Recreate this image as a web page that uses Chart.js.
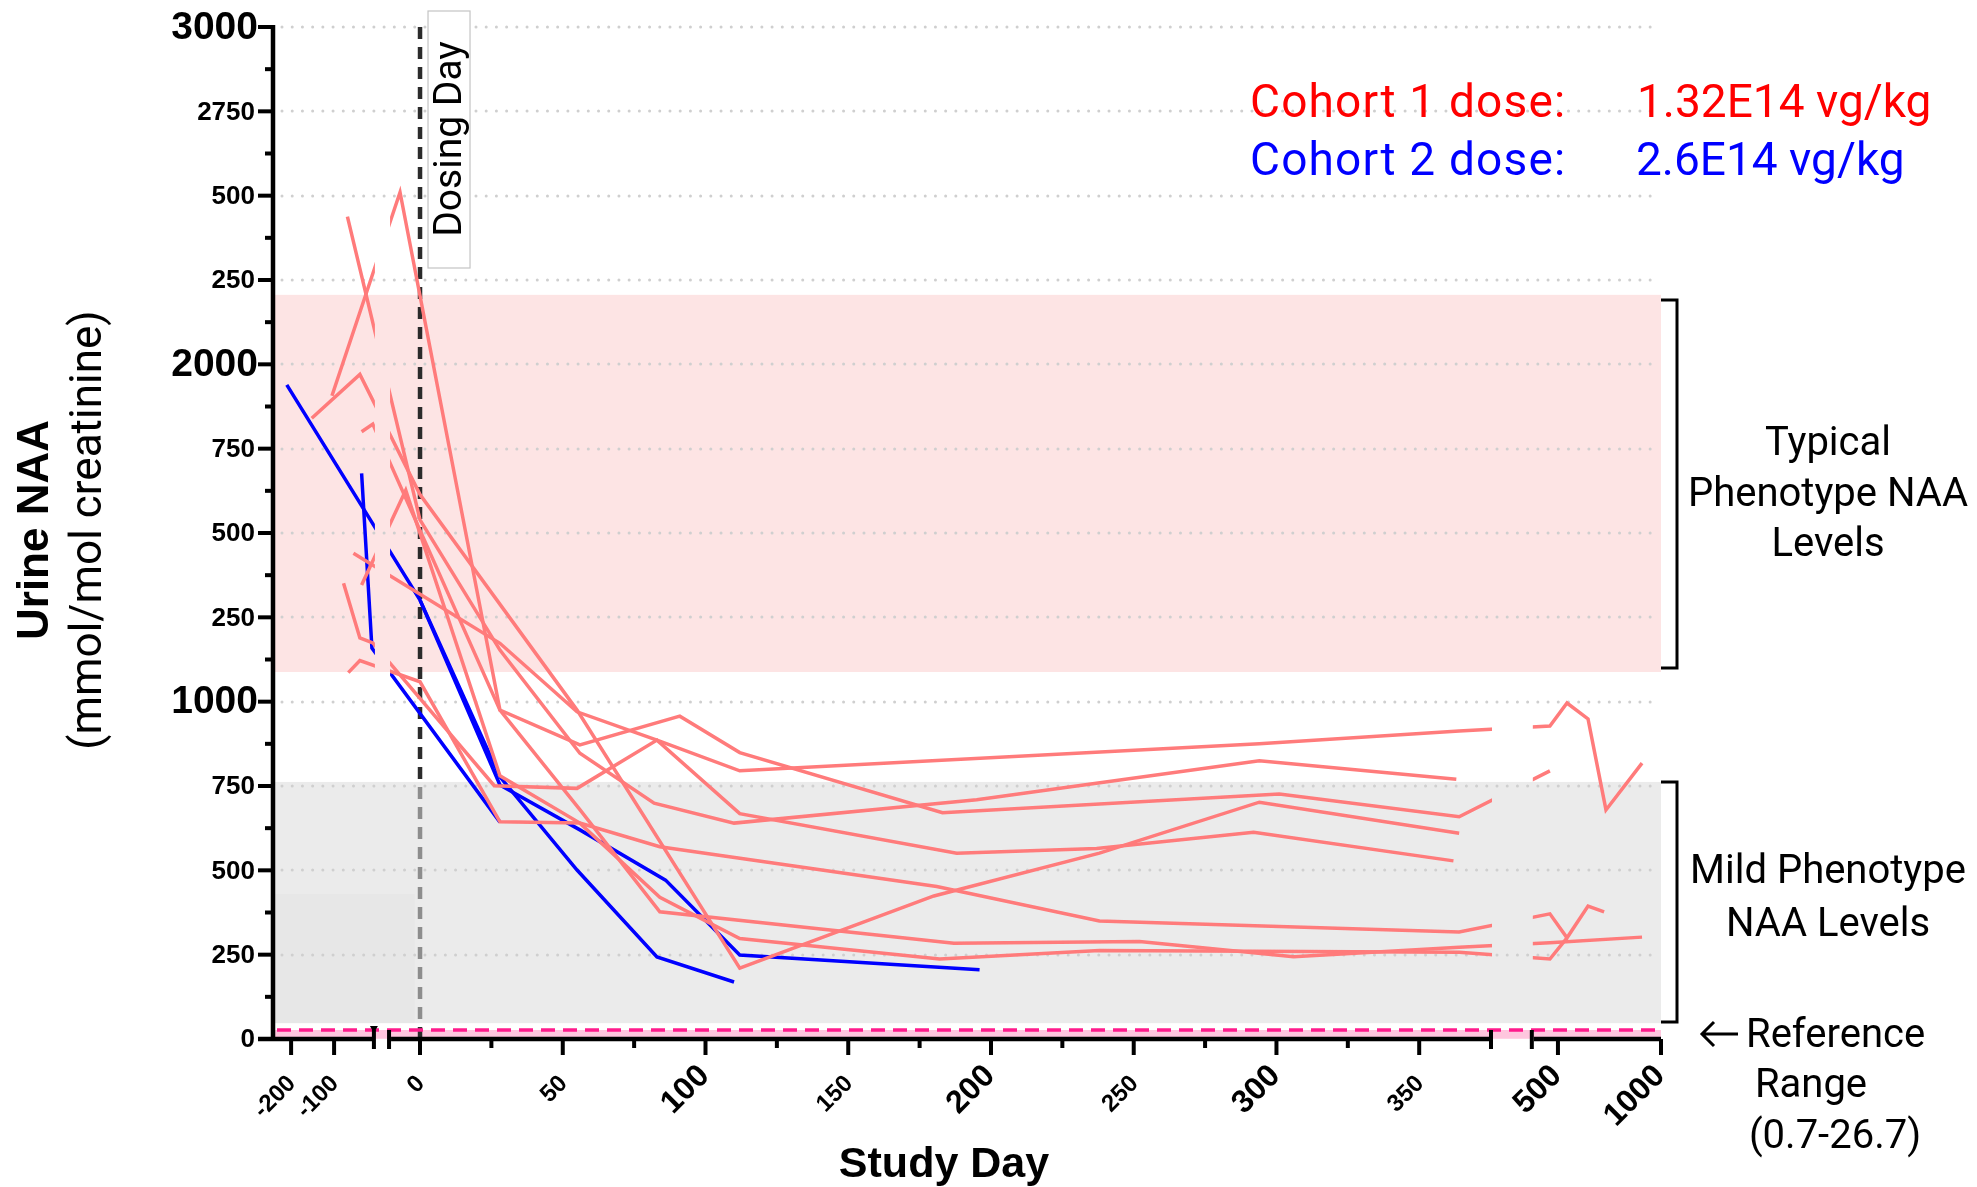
<!DOCTYPE html>
<html>
<head>
<meta charset="utf-8">
<title>Urine NAA by study day</title>
<script src="https://cdn.jsdelivr.net/npm/chart.js@4.4.1/dist/chart.umd.min.js"></script>
<style>
  html, body { margin: 0; padding: 0; background: #fff; }
  canvas { display: block; }
</style>
</head>
<body>
<canvas id="naaChart" width="1977" height="1187"></canvas>
<script>
// ---- values: study day / urine NAA (mmol/mol creatinine) ----
// cohort 1 (1.32E14 vg/kg), one pair of arrays per patient
const c1aDays = [-55, 28, 55, 83, 112, 294, 364, 461, 544, 646, 733, 908];
const c1aNaa  = [1440, 1173, 970, 886, 795, 875, 913, 928, 996, 949, 679, 818];
const c1bDays = [-105, -7, 28, 56, 91, 112, 183, 301, 364, 461];
const c1bNaa  = [1907, 2510, 975, 872, 957, 849, 671, 726, 659, 795];
const c1cDays = [-69, 0, 28, 56, 82, 110, 195, 294, 363];
const c1cNaa  = [2438, 1539, 1153, 847, 699, 640, 709, 825, 770];
const c1dDays = [-78, -40, -10, 26, 55, 83, 112, 188, 237, 292, 362];
const c1dNaa  = [1351, 1189, 1174, 751, 743, 886, 668, 551, 565, 613, 528];
const c1eDays = [-67, -40, 0, 28, 56, 84, 181, 238, 364, 461, 544, 646, 724];
const c1eNaa  = [1086, 1122, 1059, 644, 640, 570, 452, 350, 317, 371, 300, 394, 377];
const c1fDays = [-152, -40, 0, 55, 112, 180, 238, 294, 364];
const c1fNaa  = [1840, 1970, 1614, 975, 210, 424, 551, 702, 610];
const c1gDays = [-36, -10, 28, 56, 84, 187, 252, 306, 364, 461, 908];
const c1gNaa  = [1800, 1823, 975, 680, 377, 284, 289, 244, 272, 285, 302];
const c1hDays = [-36, -5, 28, 56, 84, 112, 182, 238, 364, 461, 544];
const c1hNaa  = [1346, 1627, 780, 640, 420, 298, 237, 262, 257, 237, 300];
// cohort 2 (2.6E14 vg/kg)
const c2aDays = [-210, 0, 28, 55, 83, 110];
const c2aNaa  = [1939, 1301, 777, 501, 243, 169];
const c2bDays = [0, 28, 56, 86, 112, 196];
const c2bNaa  = [1301, 753, 620, 471, 249, 205];
const c2cDays = [-36, -12, 28];
const c2cNaa  = [1677, 1159, 643];

// shaded NAA ranges
const typicalRange = [1088, 2206];
const mildRange = [47, 762];
const referenceRange = [0.7, 26.7];

// axis ticks
const xTickDays   = [-200, -100, 0, 25, 50, 75, 100, 125, 150, 175, 200, 225, 250, 275, 300, 325, 350, 500, 1000];
const xTickLabels = ['-200', '-100', '0', '', '50', '', '100', '', '150', '', '200', '', '250', '', '300', '', '350', '500', '1000'];
const xBigLabels  = ['100', '200', '300', '500', '1000'];
const yTickValues = [0, 250, 500, 750, 1000, 1250, 1500, 1750, 2000, 2250, 2500, 2750, 3000];
const yTickLabels = ['0', '250', '500', '750', '1000', '250', '500', '750', '2000', '250', '500', '2750', '3000'];
const yBigValues  = [1000, 2000, 3000];

const RED = '#ff7b7b';
const BLUE = '#0000ff';
const NUM_FONT = '"Liberation Sans", Arial, sans-serif';
const TXT_FONT = 'Roboto, "Noto Sans", sans-serif';

// broken x axis: screening squeezed, first year one unit per day, long-term follow-up squeezed
function dayToU(d) {
  if (d < -9.5) return -30.1 + (d + 100) * 0.1506;
  if (d <= 380) return d;
  return 398.6 + (d - 500) * 0.0722;
}
const axisPieces = [[-51.5, -15.8], [-10.5, 375.5], [389.8, 434.7]];

function series(days, naa, color) {
  return {
    data: days.map((d, i) => ({ x: dayToU(d), y: naa[i] })),
    borderColor: color,
    borderWidth: 3.5,
    showLine: true,
    pointRadius: 0,
    fill: false,
    tension: 0
  };
}

const cohort1 = [[c1aDays, c1aNaa], [c1bDays, c1bNaa], [c1cDays, c1cNaa], [c1dDays, c1dNaa],
                 [c1eDays, c1eNaa], [c1fDays, c1fNaa], [c1gDays, c1gNaa], [c1hDays, c1hNaa]];
const cohort2 = [[c2aDays, c2aNaa], [c2bDays, c2bNaa], [c2cDays, c2cNaa]];
const datasets = [];
cohort1.forEach(p => datasets.push(series(p[0], p[1], RED)));
cohort2.forEach(p => datasets.push(series(p[0], p[1], BLUE)));

function text(ctx, s, x, y, font, color, align, spacing) {
  ctx.font = font;
  ctx.fillStyle = color;
  ctx.textAlign = align || 'left';
  ctx.textBaseline = 'alphabetic';
  ctx.letterSpacing = spacing || '0px';
  ctx.fillText(s, x, y);
  ctx.letterSpacing = '0px';
}

const naaDecor = {
  id: 'naaDecor',
  beforeDatasetsDraw(chart) {
    const { ctx, chartArea: area, scales } = chart;
    const x = scales.x, y = scales.y;
    const w = area.right - area.left;
    const x0 = x.getPixelForValue(dayToU(0));
    ctx.save();
    // typical phenotype band
    ctx.fillStyle = '#fde4e4';
    ctx.fillRect(area.left, y.getPixelForValue(typicalRange[1]), w,
      y.getPixelForValue(typicalRange[0]) - y.getPixelForValue(typicalRange[1]));
    // reference range band
    ctx.fillStyle = '#ffc6de';
    ctx.fillRect(area.left, y.getPixelForValue(referenceRange[1]), w,
      y.getPixelForValue(referenceRange[0]) - y.getPixelForValue(referenceRange[1]));
    // dosing day
    ctx.strokeStyle = '#2b2b2b';
    ctx.lineWidth = 4.5;
    ctx.setLineDash([12, 8]);
    ctx.beginPath();
    ctx.moveTo(x0, area.top);
    ctx.lineTo(x0, area.bottom);
    ctx.stroke();
    ctx.setLineDash([]);
    // mild phenotype band (translucent, greys the dosing line under it)
    ctx.fillStyle = 'rgba(219,219,219,0.56)';
    ctx.fillRect(area.left, y.getPixelForValue(mildRange[1]), w,
      y.getPixelForValue(mildRange[0]) - y.getPixelForValue(mildRange[1]));
    ctx.fillStyle = 'rgba(200,200,200,0.12)';
    ctx.fillRect(area.left, y.getPixelForValue(430), x.getPixelForValue(dayToU(-1.8)) - area.left,
      y.getPixelForValue(mildRange[0]) - y.getPixelForValue(430));
    // dotted grid
    ctx.strokeStyle = '#cfcfcf';
    ctx.lineWidth = 3;
    ctx.lineCap = 'round';
    ctx.setLineDash([0.01, 10.2]);
    yTickValues.forEach(v => {
      if (v === 0) return;
      const yy = Math.round(y.getPixelForValue(v));
      ctx.beginPath();
      ctx.moveTo(area.left + 9, yy);
      ctx.lineTo(area.right - 6, yy);
      ctx.stroke();
    });
    ctx.restore();
    // clip the patient lines to the three pieces of the broken axis
    ctx.save();
    ctx.beginPath();
    axisPieces.forEach(p => {
      const l = x.getPixelForValue(p[0]), r = x.getPixelForValue(p[1]);
      ctx.rect(l, area.top - 10, r - l, area.bottom - area.top + 10);
    });
    ctx.clip();
  },
  afterDatasetsDraw(chart) {
    const { ctx, chartArea: area, scales } = chart;
    const x = scales.x, y = scales.y;
    ctx.restore();
    ctx.save();
    const yAxis = area.bottom;
    // reference range dashed line
    ctx.strokeStyle = '#ff1a8c';
    ctx.lineWidth = 3.5;
    ctx.setLineDash([14, 8]);
    ctx.beginPath();
    const yr = y.getPixelForValue(referenceRange[1]);
    ctx.moveTo(area.left + 4, yr);
    ctx.lineTo(area.right, yr);
    ctx.stroke();
    ctx.setLineDash([]);

    // y axis line, ticks and labels
    ctx.strokeStyle = '#000';
    ctx.fillStyle = '#000';
    ctx.lineWidth = 4.5;
    ctx.beginPath();
    ctx.moveTo(area.left, area.top - 2);
    ctx.lineTo(area.left, yAxis + 2);
    ctx.stroke();
    ctx.lineWidth = 4;
    for (let v = 0; v <= 3000; v += 125) {
      const yy = y.getPixelForValue(v);
      const len = v % 250 === 0 ? 15 : 8;
      ctx.beginPath();
      ctx.moveTo(area.left - len, yy);
      ctx.lineTo(area.left, yy);
      ctx.stroke();
    }
    ctx.textAlign = 'right';
    ctx.textBaseline = 'middle';
    yTickValues.forEach((v, i) => {
      const big = yBigValues.includes(v);
      ctx.font = 'bold ' + (big ? 39 : 26) + 'px ' + NUM_FONT;
      ctx.fillText(yTickLabels[i], area.left - (big ? 15 : 18), y.getPixelForValue(v) + (big ? 1 : 1));
    });

    // x axis pieces
    ctx.lineWidth = 4.5;
    axisPieces.forEach((p, i) => {
      const l = i === 0 ? area.left - 15 : x.getPixelForValue(p[0]) + 1;
      const r = x.getPixelForValue(p[1]) - (i === 0 ? 1 : 0);
      ctx.beginPath();
      ctx.moveTo(l, yAxis);
      ctx.lineTo(r, yAxis);
      ctx.stroke();
    });
    // break marks
    ctx.lineWidth = 4;
    [[axisPieces[0][1], 1], [axisPieces[1][0], 0], [axisPieces[1][1], 0], [axisPieces[2][0], 0]].forEach(b => {
      const bx = x.getPixelForValue(b[0]) - 1;
      ctx.beginPath();
      ctx.moveTo(bx, yAxis - 9);
      ctx.lineTo(bx, yAxis + 10);
      ctx.stroke();
      if (b[1]) {
        ctx.beginPath();
        ctx.moveTo(bx - 4, yAxis - 13);
        ctx.lineTo(bx + 4, yAxis - 13);
        ctx.lineTo(bx, yAxis - 6);
        ctx.closePath();
        ctx.fill();
      }
    });
    // x ticks and rotated labels
    xTickDays.forEach((d, i) => {
      const tx = x.getPixelForValue(dayToU(d));
      const lab = xTickLabels[i];
      const len = lab ? 16 : 9;
      ctx.lineWidth = 4;
      ctx.beginPath();
      ctx.moveTo(tx, yAxis);
      ctx.lineTo(tx, yAxis + len);
      ctx.stroke();
      if (!lab) return;
      const big = xBigLabels.includes(lab);
      ctx.save();
      ctx.translate(tx + (big ? -1 : 1), yAxis + (big ? 32 : 41));
      ctx.rotate(-Math.PI / 4);
      ctx.font = 'bold ' + (big ? 32 : 24) + 'px ' + NUM_FONT;
      ctx.textAlign = 'right';
      ctx.textBaseline = 'middle';
      ctx.fillText(lab, 0, 0);
      ctx.restore();
    });

    // axis titles
    text(ctx, 'Study Day', 944, 1177, 'bold 43px ' + NUM_FONT, '#000', 'center');
    ctx.save();
    ctx.rotate(-Math.PI / 2);
    text(ctx, 'Urine NAA', -530, 48, 'bold 44px ' + NUM_FONT, '#000', 'center');
    text(ctx, '(mmol/mol creatinine)', -530, 101, '44px ' + TXT_FONT, '#000', 'center');
    ctx.restore();

    // dosing day label
    const x0 = x.getPixelForValue(dayToU(0));
    ctx.fillStyle = '#fff';
    ctx.fillRect(x0 + 8, 11, 42, 257);
    ctx.strokeStyle = '#c4c4c4';
    ctx.lineWidth = 1.2;
    ctx.strokeRect(x0 + 8, 11, 42, 257);
    ctx.save();
    ctx.translate(x0 + 31, 139);
    ctx.rotate(-Math.PI / 2);
    ctx.font = '39px ' + TXT_FONT;
    ctx.fillStyle = '#000';
    ctx.textAlign = 'center';
    ctx.textBaseline = 'middle';
    ctx.fillText('Dosing Day', 0, 0);
    ctx.restore();

    // cohort doses
    text(ctx, 'Cohort 1 dose:', 1250, 117, '46px ' + TXT_FONT, '#ff0000', 'left', '1.2px');
    text(ctx, '1.32E14 vg/kg', 1637, 117, '46px ' + TXT_FONT, '#ff0000');
    text(ctx, 'Cohort 2 dose:', 1250, 175, '46px ' + TXT_FONT, '#0000ff', 'left', '1.2px');
    text(ctx, '2.6E14 vg/kg', 1636, 175, '46px ' + TXT_FONT, '#0000ff');

    // range brackets
    ctx.strokeStyle = '#000';
    ctx.lineWidth = 3;
    const bx = area.right + 16;
    [[300, 668], [782, 1022]].forEach(b => {
      ctx.beginPath();
      ctx.moveTo(area.right, b[0]);
      ctx.lineTo(bx, b[0]);
      ctx.lineTo(bx, b[1]);
      ctx.lineTo(area.right, b[1]);
      ctx.stroke();
    });
    // reference arrow
    ctx.lineWidth = 3;
    ctx.beginPath();
    ctx.moveTo(1738, 1034);
    ctx.lineTo(1702, 1034);
    ctx.moveTo(1714, 1022);
    ctx.lineTo(1702, 1034);
    ctx.lineTo(1714, 1046);
    ctx.stroke();

    const f40 = '40px ' + TXT_FONT;
    text(ctx, 'Typical', 1828, 455, f40, '#000', 'center');
    text(ctx, 'Phenotype NAA', 1828, 506, f40, '#000', 'center');
    text(ctx, 'Levels', 1828, 556, f40, '#000', 'center');
    text(ctx, 'Mild Phenotype', 1828, 883, f40, '#000', 'center');
    text(ctx, 'NAA Levels', 1828, 936, f40, '#000', 'center');
    text(ctx, 'Reference', 1746, 1047, f40, '#000', 'left');
    text(ctx, 'Range', 1811, 1097, f40, '#000', 'center');
    text(ctx, '(0.7-26.7)', 1835, 1148, f40, '#000', 'center');
    ctx.restore();
  }
};

new Chart(document.getElementById('naaChart'), {
  type: 'scatter',
  data: { datasets: datasets },
  options: {
    responsive: false,
    animation: false,
    devicePixelRatio: 1,
    layout: { padding: { top: 27, right: 316, left: 0, bottom: 0 } },
    plugins: { legend: { display: false }, tooltip: { enabled: false } },
    scales: {
      x: {
        type: 'linear',
        min: -51.5,
        max: 434.7,
        grid: { display: false, drawTicks: false },
        border: { display: false },
        ticks: { display: false },
        afterFit: s => { s.height = 148; s.paddingLeft = 0; s.paddingRight = 0; }
      },
      y: {
        type: 'linear',
        min: 0,
        max: 3000,
        grid: { display: false, drawTicks: false },
        border: { display: false },
        ticks: { display: false },
        afterFit: s => { s.width = 273; s.paddingTop = 0; s.paddingBottom = 0; }
      }
    }
  },
  plugins: [naaDecor]
});
</script>
</body>
</html>
